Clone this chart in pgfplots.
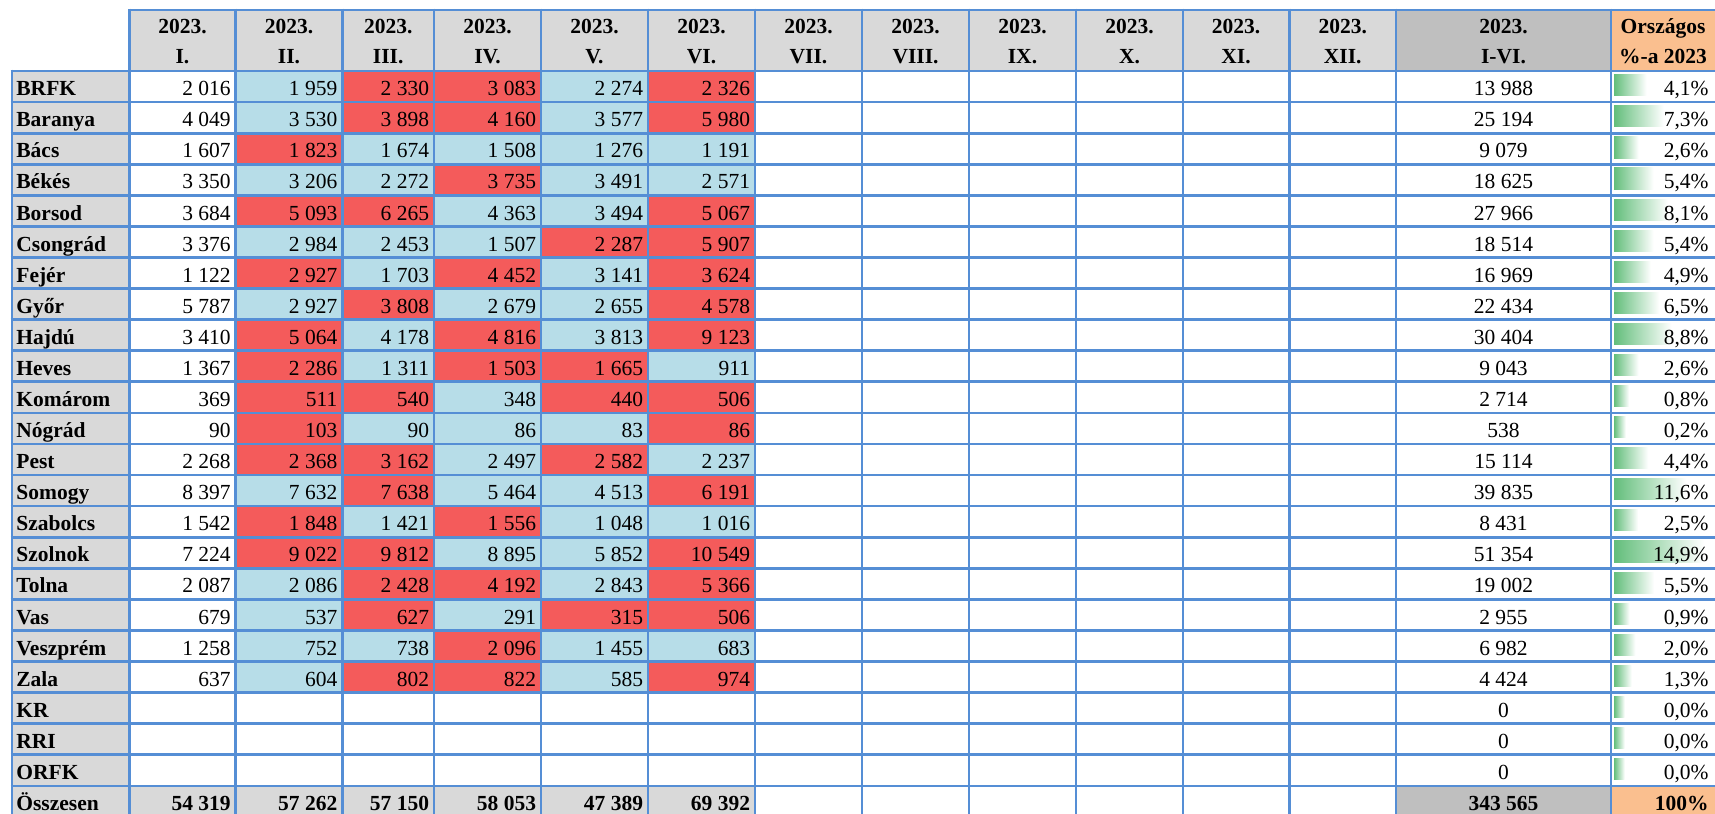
\documentclass[border=0pt]{standalone}
\usepackage{fontspec}
\setmainfont{Liberation Serif}
\usepackage{pgfplots}
\pgfplotsset{compat=1.18}
\usepackage{pgfplotstable}
\definecolor{hg}{HTML}{D9D9D9}
\definecolor{tg}{HTML}{BFBFBF}
\definecolor{og}{HTML}{FABF8F}
\definecolor{cB}{HTML}{B7DDE8}
\definecolor{cR}{HTML}{F45B5B}
\definecolor{gridc}{HTML}{558ED5}
\definecolor{dbg}{HTML}{63BE7B}
\newcommand\fs{\fontsize{10.75bp}{13bp}\selectfont}
\pgfkeys{/pgf/number format/assume math mode=true}

% monthly values, rows 0..19
\pgfplotstableread[col sep=comma]{
r,I,II,III,IV,V,VI
0,2016,1959,2330,3083,2274,2326
1,4049,3530,3898,4160,3577,5980
2,1607,1823,1674,1508,1276,1191
3,3350,3206,2272,3735,3491,2571
4,3684,5093,6265,4363,3494,5067
5,3376,2984,2453,1507,2287,5907
6,1122,2927,1703,4452,3141,3624
7,5787,2927,3808,2679,2655,4578
8,3410,5064,4178,4816,3813,9123
9,1367,2286,1311,1503,1665,911
10,369,511,540,348,440,506
11,90,103,90,86,83,86
12,2268,2368,3162,2497,2582,2237
13,8397,7632,7638,5464,4513,6191
14,1542,1848,1421,1556,1048,1016
15,7224,9022,9812,8895,5852,10549
16,2087,2086,2428,4192,2843,5366
17,679,537,627,291,315,506
18,1258,752,738,2096,1455,683
19,637,604,802,822,585,974
}\tabM

% half-year totals and national share
\pgfplotstableread[col sep=comma]{
r,tot,pct
0,13988,4.1
1,25194,7.3
2,9079,2.6
3,18625,5.4
4,27966,8.1
5,18514,5.4
6,16969,4.9
7,22434,6.5
8,30404,8.8
9,9043,2.6
10,2714,0.8
11,538,0.2
12,15114,4.4
13,39835,11.6
14,8431,2.5
15,51354,14.9
16,19002,5.5
17,2955,0.9
18,6982,2.0
19,4424,1.3
20,0,0.0
21,0,0.0
22,0,0.0
}\tabT

\pgfplotstableread[col sep=comma]{
r,lab
0,BRFK
1,Baranya
2,Bács
3,Békés
4,Borsod
5,Csongrád
6,Fejér
7,Győr
8,Hajdú
9,Heves
10,Komárom
11,Nógrád
12,Pest
13,Somogy
14,Szabolcs
15,Szolnok
16,Tolna
17,Vas
18,Veszprém
19,Zala
20,KR
21,RRI
22,ORFK
23,Összesen
}\tabL

\pgfplotstableread[col sep=comma]{
x,v
231.1,54319
337.7,57262
429.4,57150
536.4,58053
643.4,47389
750.4,69392
}\tabS

\pgfplotstableread[col sep=comma]{
x,a,b
182.5,2023.,I.
289,2023.,II.
388.2,2023.,III.
487.5,2023.,IV.
594.5,2023.,V.
701.5,2023.,VI.
808.5,2023.,VII.
915.5,2023.,VIII.
1022.5,2023.,IX.
1129.5,2023.,X.
1236,2023.,XI.
1342.7,2023.,XII.
1503.5,2023.,I-VI.
1663,Országos,\%-a 2023
}\tabH

\newcommand\rect[5]{\edef\tmp{\noexpand\addplot[fill=#5,draw=none] coordinates {(#1,#3)(#2,#3)(#2,#4)(#1,#4)} --cycle;}\tmp}
\newcommand\cellr[4]{\pgfmathsetmacro\rp{#3+1}\rect{#1}{#2}{#3}{\rp}{#4}}
\newcommand\datarow[6]{\cellr{235.7}{342.3}{#1}{#2}\cellr{342.3}{434}{#1}{#3}\cellr{434}{541}{#1}{#4}\cellr{541}{648}{#1}{#5}\cellr{648}{755}{#1}{#6}}
\newcommand\dbar[2]{\pgfmathsetmacro\ya{#1+0.12}\pgfmathsetmacro\yb{#1+0.8}\pgfmathsetmacro\xe{1624.7+5.32*#2}\edef\tmp{\noexpand\addplot[draw=none,left color=dbg,right color=white] coordinates {(1614,\ya)(\xe,\ya)(\xe,\yb)(1614,\yb)} --cycle;}\tmp}

\pgfplotsset{
  txt/.style={draw=none, mark=none, nodes near coords,
    every node near coord/.append style={font=\fs, text=black, inner sep=0pt}},
  gline/.style={color=gridc, line width=1.35bp},
}

\begin{document}
\begin{tikzpicture}
\begin{axis}[scale only axis, width=857.5bp, height=407bp,
  xmin=0, xmax=1715, ymin=-2.2844, ymax=23.906, y dir=reverse, hide axis]
% background
\rect{0}{1715}{-2.2844}{23.906}{white}
% header fills
\rect{129.3}{1396}{-1.963}{0}{hg}
\rect{1396}{1611}{-1.963}{0}{tg}
\rect{1611}{1715}{-1.963}{0}{og}
% label column
\rect{12}{129.3}{0}{23.906}{hg}
% sum row
\rect{129.3}{755}{23}{23.906}{hg}
\rect{1396}{1611}{23}{23.906}{tg}
\rect{1611}{1715}{23}{23.906}{og}
% monthly change colours (II..VI)
\datarow{0}{cB}{cR}{cR}{cB}{cR}
\datarow{1}{cB}{cR}{cR}{cB}{cR}
\datarow{2}{cR}{cB}{cB}{cB}{cB}
\datarow{3}{cB}{cB}{cR}{cB}{cB}
\datarow{4}{cR}{cR}{cB}{cB}{cR}
\datarow{5}{cB}{cB}{cB}{cR}{cR}
\datarow{6}{cR}{cB}{cR}{cB}{cR}
\datarow{7}{cB}{cR}{cB}{cB}{cR}
\datarow{8}{cR}{cB}{cR}{cB}{cR}
\datarow{9}{cR}{cB}{cR}{cR}{cB}
\datarow{10}{cR}{cR}{cB}{cR}{cR}
\datarow{11}{cR}{cB}{cB}{cB}{cR}
\datarow{12}{cR}{cR}{cB}{cR}{cB}
\datarow{13}{cB}{cR}{cB}{cB}{cR}
\datarow{14}{cR}{cB}{cR}{cB}{cB}
\datarow{15}{cR}{cR}{cB}{cB}{cR}
\datarow{16}{cB}{cR}{cR}{cB}{cR}
\datarow{17}{cB}{cR}{cB}{cR}{cR}
\datarow{18}{cB}{cB}{cR}{cB}{cB}
\datarow{19}{cB}{cR}{cR}{cB}{cR}
% data bars
\dbar{0}{4.1}\dbar{1}{7.3}\dbar{2}{2.6}\dbar{3}{5.4}\dbar{4}{8.1}
\dbar{5}{5.4}\dbar{6}{4.9}\dbar{7}{6.5}\dbar{8}{8.8}\dbar{9}{2.6}
\dbar{10}{0.8}\dbar{11}{0.2}\dbar{12}{4.4}\dbar{13}{11.6}\dbar{14}{2.5}
\dbar{15}{14.9}\dbar{16}{5.5}\dbar{17}{0.9}\dbar{18}{2.0}\dbar{19}{1.3}
\dbar{20}{0}\dbar{21}{0}\dbar{22}{0}
% grid lines
\pgfplotsinvokeforeach{0,...,23}{\addplot[gline] coordinates {(10.6,#1)(1715,#1)};}
\addplot[gline] coordinates {(128,-1.963)(1715,-1.963)};
\addplot[gline] coordinates {(12,-0.043)(12,23.906)};
\pgfplotsinvokeforeach{129.3,235.7,342.3,434,541,648,755,862,969,1076,1183,1289.5,1396,1611}{\addplot[gline] coordinates {(#1,-2.006)(#1,23.906)};}
% header text
\addplot[txt, point meta=explicit symbolic, every node near coord/.append style={anchor=base, font=\fs\bfseries}] table[x=x, y expr=-1.2227, meta=a]{\tabH};
\addplot[txt, point meta=explicit symbolic, every node near coord/.append style={anchor=base, font=\fs\bfseries}] table[x=x, y expr=-0.257, meta=b]{\tabH};
% row labels
\addplot[txt, point meta=explicit symbolic, every node near coord/.append style={anchor=base west, font=\fs\bfseries}] table[x expr=16, y expr=\thisrow{r}+0.795, meta=lab]{\tabL};
% monthly numbers
\pgfplotsset{numnode/.style={txt, point meta=explicit,
  nodes near coords={\pgfmathprintnumber[fixed,precision=0,1000 sep={\ }]{\pgfplotspointmeta}},
  every node near coord/.append style={anchor=base east}}}
\addplot[numnode] table[x expr=231.1, y expr=\thisrow{r}+0.795, meta=I]{\tabM};
\addplot[numnode] table[x expr=337.7, y expr=\thisrow{r}+0.795, meta=II]{\tabM};
\addplot[numnode] table[x expr=429.4, y expr=\thisrow{r}+0.795, meta=III]{\tabM};
\addplot[numnode] table[x expr=536.4, y expr=\thisrow{r}+0.795, meta=IV]{\tabM};
\addplot[numnode] table[x expr=643.4, y expr=\thisrow{r}+0.795, meta=V]{\tabM};
\addplot[numnode] table[x expr=750.4, y expr=\thisrow{r}+0.795, meta=VI]{\tabM};
% totals
\addplot[numnode, every node near coord/.append style={anchor=base}] table[x expr=1503.5, y expr=\thisrow{r}+0.795, meta=tot]{\tabT};
% percentages
\addplot[txt, point meta=explicit,
  nodes near coords={\pgfmathprintnumber[fixed,fixed zerofill,precision=1,use comma]{\pgfplotspointmeta}\%},
  every node near coord/.append style={anchor=base east}] table[x expr=1709, y expr=\thisrow{r}+0.795, meta=pct]{\tabT};
% sum row
\addplot[numnode, every node near coord/.append style={font=\fs\bfseries}] table[x=x, y expr=23.795, meta=v]{\tabS};
\addplot[numnode, every node near coord/.append style={anchor=base, font=\fs\bfseries}] coordinates {(1503.5,23.795) [343565]};
\addplot[txt, point meta=explicit symbolic, every node near coord/.append style={anchor=base east, font=\fs\bfseries}] coordinates {(1709,23.795) [100\%]};
\end{axis}
\end{tikzpicture}
\end{document}
